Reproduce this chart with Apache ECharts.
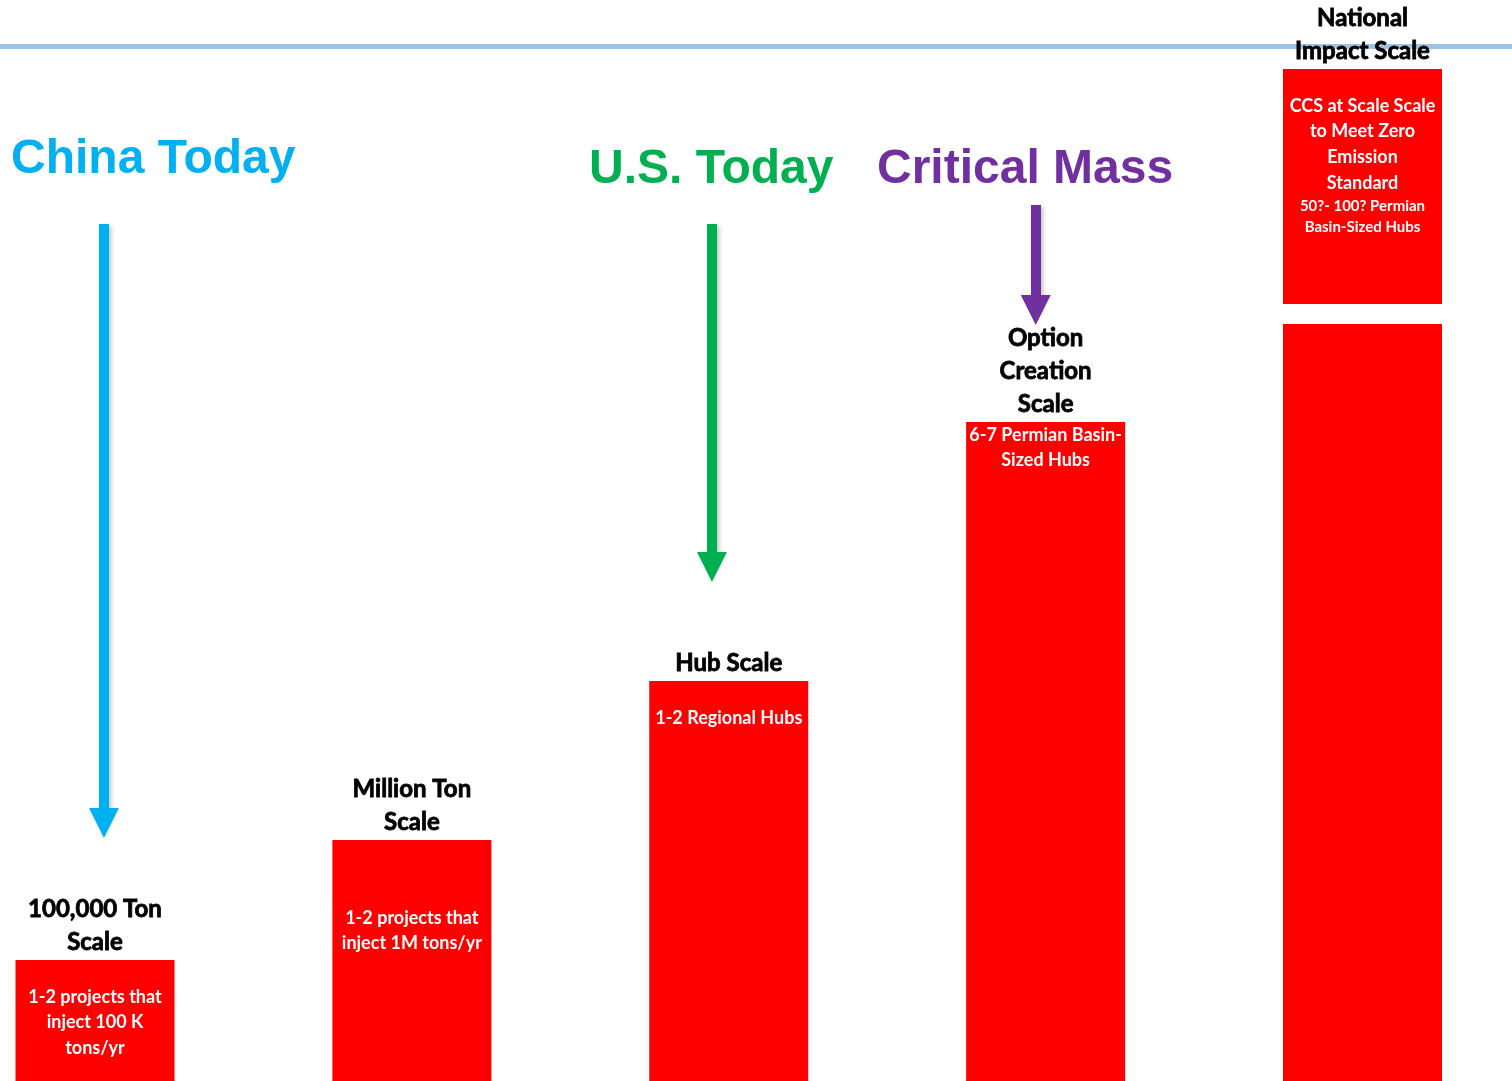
<!DOCTYPE html>
<html>
<head>
<meta charset="utf-8">
<script src="https://cdn.jsdelivr.net/npm/echarts@6/dist/echarts.min.js"></script>
<style>
html,body{margin:0;padding:0;background:#fff;}
#chart{width:1512px;height:1081px;}
</style>
</head>
<body>
<div id="chart"></div>
<script>
// ---- data ----
const categories = ['100,000 Ton\nScale', 'Million Ton\nScale', 'Hub Scale', 'Option\nCreation\nScale', 'National\nImpact Scale'];
const insideTexts = [
  '1-2 projects that\ninject 100 K\ntons/yr',
  '1-2 projects that\ninject 1M tons/yr',
  '1-2 Regional Hubs',
  '6-7 Permian Basin-\nSized Hubs',
  '{a|CCS at Scale Scale}\n{a|to Meet Zero}\n{a|Emission}\n{a|Standard}\n{b|50?- 100? Permian}\n{b|Basin-Sized Hubs}'
];
// bar heights (lower segment, break gap, upper segment)
const lowerValues = [121, 241, 400, 659, 757];
const gapValues   = [0, 0, 0, 0, 20];
const upperValues = [0, 0, 0, 0, 235];
// headline arrows (x in category-index units)
const arrowLabels = ['China Today', 'U.S. Today', 'Critical Mass'];
const arrowColors = ['#00B0F0', '#00B050', '#7030A0'];
const arrowX      = [0.028, 1.947, 2.969];
const arrowFrom   = [857, 857, 876];
const arrowTo     = [258, 514, 771];
// horizontal rule under the (cropped) page title
const ruleValue   = 1035;

const totals = lowerValues.map((v, i) => v + gapValues[i] + upperValues[i]);
const insideDist = [24, 65, 24, 0, 24];

const chart = echarts.init(document.getElementById('chart'));
const RED = '#FF0000';
const lbl = {fontFamily: 'Lato', fontWeight: 'bold'};
const head = c => ({fontFamily: 'Liberation Sans', fontWeight: 'bold', fontSize: 48, color: c});

const option = {
  animation: false,
  title: [
    {text: arrowLabels[0], left: 11, top: 136, padding: 0, textStyle: head(arrowColors[0])},
    {text: arrowLabels[1], left: 589, top: 146, padding: 0, textStyle: head(arrowColors[1])},
    {text: arrowLabels[2], left: 877, top: 146, padding: 0, textStyle: head(arrowColors[2])}
  ],
  grid: [
    {left: 95, right: 149.5, top: 0, bottom: 0},
    {left: 0, right: 0, top: 0, bottom: 0}
  ],
  xAxis: [
    {type: 'category', data: categories, boundaryGap: false, show: false, gridIndex: 0},
    {type: 'value', min: -0.3, max: 4.472, show: false, gridIndex: 1}
  ],
  yAxis: [
    {type: 'value', min: 0, max: 1081, show: false, gridIndex: 0},
    {type: 'value', min: 0, max: 1081, show: false, gridIndex: 1}
  ],
  series: [
    {
      name: 'rule', type: 'line', xAxisIndex: 1, yAxisIndex: 1, data: [], silent: true, z: 1,
      markLine: {
        silent: true, z: 1, symbol: 'none', label: {show: false},
        lineStyle: {color: '#9DC3E6', width: 5, type: 'solid'},
        data: [{yAxis: ruleValue}]
      }
    },
    {
      name: 'lower', type: 'bar', stack: 's', barWidth: 159, barGap: '-100%', clip: false,
      itemStyle: {color: RED},
      data: lowerValues.map((v, i) => ({
        value: v,
        label: i < 4 ? {show: true, position: 'insideTop', distance: insideDist[i], formatter: insideTexts[i],
          color: '#fff', fontSize: 18, lineHeight: 25.5, ...lbl} : {show: false}
      })),
      z: 2
    },
    {
      name: 'gap', type: 'bar', stack: 's', barWidth: 159, clip: false,
      itemStyle: {color: 'rgba(0,0,0,0)'},
      data: gapValues,
      z: 2
    },
    {
      name: 'upper', type: 'bar', stack: 's', barWidth: 159, clip: false,
      itemStyle: {color: RED},
      data: upperValues.map((v, i) => ({
        value: v,
        label: i === 4 ? {show: true, position: 'insideTop', distance: insideDist[i], formatter: insideTexts[i],
          color: '#fff', ...lbl,
          rich: {a: {fontSize: 18, lineHeight: 25.7, color: '#fff', ...lbl}, b: {fontSize: 15, lineHeight: 21, color: '#fff', ...lbl}}} : {show: false}
      })),
      z: 2
    },
    {
      name: 'titles', type: 'bar', barWidth: 159, clip: false,
      itemStyle: {color: 'rgba(0,0,0,0)'},
      label: {show: true, position: 'top', distance: 1, color: '#000', fontSize: 24, lineHeight: 33,
        fontFamily: 'Lato', fontWeight: 'bold', textBorderColor: '#000', textBorderWidth: 0.8,
        formatter: p => categories[p.dataIndex]},
      data: totals,
      z: 3
    },
    {
      name: 'arrows', type: 'line', xAxisIndex: 1, yAxisIndex: 1, data: [], silent: true,
      markLine: {
        silent: true, symbol: ['none', 'triangle'], symbolSize: 30, label: {show: false},
        data: arrowX.map((x, i) => [
          {coord: [x, arrowFrom[i]], lineStyle: {color: arrowColors[i], width: 10, type: 'solid', shadowBlur: 4, shadowColor: 'rgba(0,0,0,0.25)', shadowOffsetX: 2, shadowOffsetY: 2}},
          {coord: [x, arrowTo[i]]}
        ])
      },
      z: 4
    }
  ]
};
chart.setOption(option);
</script>
</body>
</html>
